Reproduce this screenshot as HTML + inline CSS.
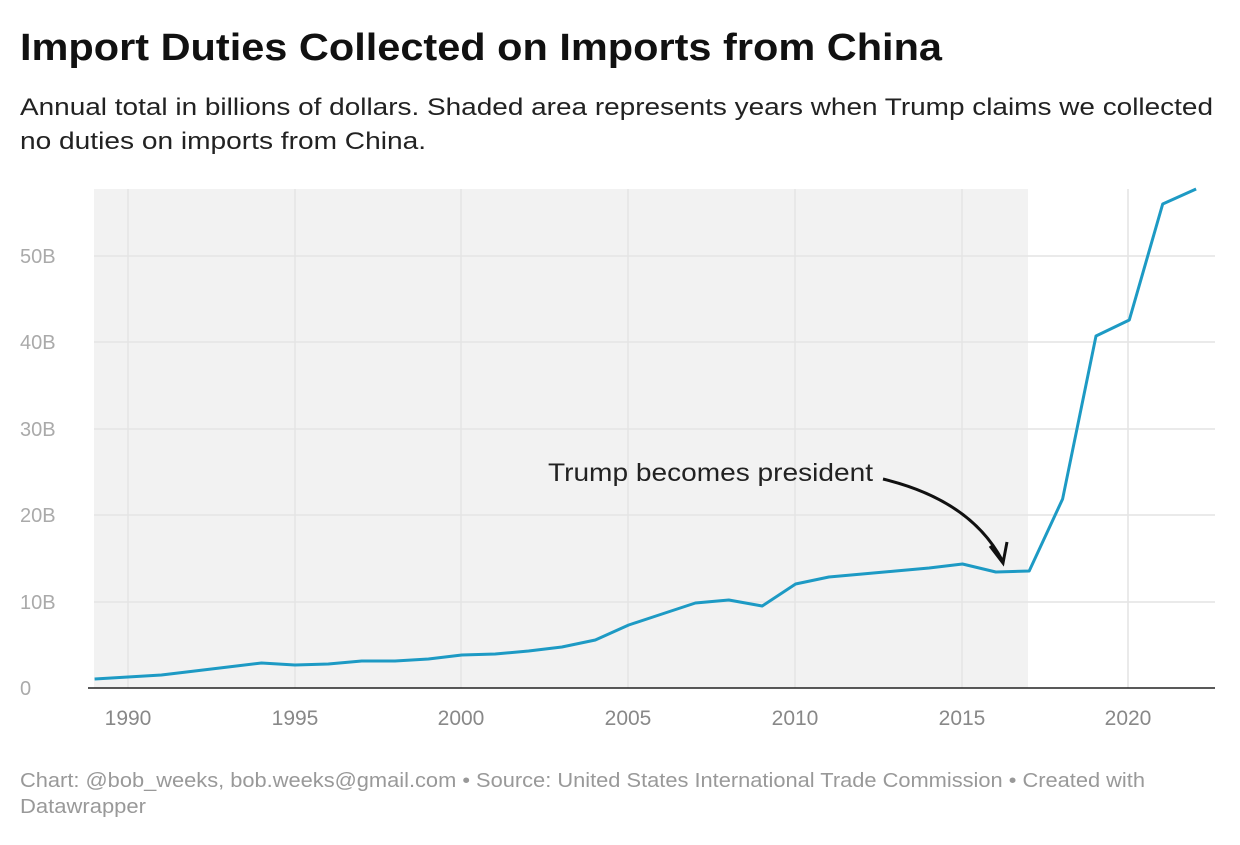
<!DOCTYPE html>
<html><head><meta charset="utf-8"><style>
body{margin:0;background:#fff;width:1240px;height:840px;overflow:hidden;font-family:"Liberation Sans",sans-serif}
</style></head><body>
<svg width="1240" height="840" xmlns="http://www.w3.org/2000/svg" font-family="Liberation Sans, sans-serif">
<text x="20" y="60" font-size="38" font-weight="bold" fill="#111" textLength="922" lengthAdjust="spacingAndGlyphs">Import Duties Collected on Imports from China</text>
<text x="20" y="115" font-size="24" fill="#222" textLength="1193" lengthAdjust="spacingAndGlyphs">Annual total in billions of dollars. Shaded area represents years when Trump claims we collected</text>
<text x="20" y="149" font-size="24" fill="#222" textLength="406" lengthAdjust="spacingAndGlyphs">no duties on imports from China.</text>
<rect x="94" y="189" width="934" height="499" fill="#f2f2f2"/>
<g stroke="#e4e4e4" stroke-width="1.5">
<line x1="94" x2="1215" y1="602" y2="602"/><line x1="94" x2="1215" y1="515" y2="515"/>
<line x1="94" x2="1215" y1="429" y2="429"/><line x1="94" x2="1215" y1="342" y2="342"/>
<line x1="94" x2="1215" y1="256" y2="256"/>
<line x1="128" x2="128" y1="189" y2="688"/><line x1="295" x2="295" y1="189" y2="688"/>
<line x1="461" x2="461" y1="189" y2="688"/><line x1="628" x2="628" y1="189" y2="688"/>
<line x1="795" x2="795" y1="189" y2="688"/><line x1="962" x2="962" y1="189" y2="688"/>
<line x1="1128" x2="1128" y1="189" y2="688"/>
</g>
<line x1="88" x2="1215" y1="688" y2="688" stroke="#222" stroke-width="1.5"/>
<g fill="#aaa" font-size="20">
<text x="20" y="695">0</text><text x="20" y="609">10B</text><text x="20" y="522">20B</text>
<text x="20" y="436">30B</text><text x="20" y="349">40B</text><text x="20" y="263">50B</text>
</g>
<g fill="#888" font-size="21" text-anchor="middle">
<text x="128" y="725">1990</text><text x="295" y="725">1995</text><text x="461" y="725">2000</text>
<text x="628" y="725">2005</text><text x="795" y="725">2010</text><text x="962" y="725">2015</text>
<text x="1128" y="725">2020</text>
</g>
<polyline fill="none" stroke="#1d9ac4" stroke-width="3" stroke-linejoin="round" points="94.6,679 128,677 161.4,675 194.8,671 228.1,667 261.5,663 294.9,665 328.3,664 361.7,661 395,661 428.4,659 461.8,655 495.2,654 528.6,651 561.9,647 595.3,640 628.7,625 662,614 695.4,603 728.8,600 762.2,606 795.6,584 828.9,577 862.3,574 895.7,571 929.1,568 962.5,564 995.8,572 1029.2,571 1062.6,499 1096,336 1129.3,320 1162.7,204 1196.1,189"/>
<text x="548" y="481" font-size="25" fill="#222" textLength="325" lengthAdjust="spacingAndGlyphs">Trump becomes president</text>
<path d="M883,479 Q970,500 1002,560" fill="none" stroke="#111" stroke-width="3"/>
<path d="M990,546 L1003,563 L1007,542" fill="none" stroke="#111" stroke-width="3"/>
<text x="20" y="787" font-size="20" fill="#999" textLength="1125" lengthAdjust="spacingAndGlyphs">Chart: @bob_weeks, bob.weeks@gmail.com  • Source: United States International Trade Commission • Created with</text>
<text x="20" y="813" font-size="20" fill="#999" textLength="126" lengthAdjust="spacingAndGlyphs">Datawrapper</text>
</svg>
</body></html>
